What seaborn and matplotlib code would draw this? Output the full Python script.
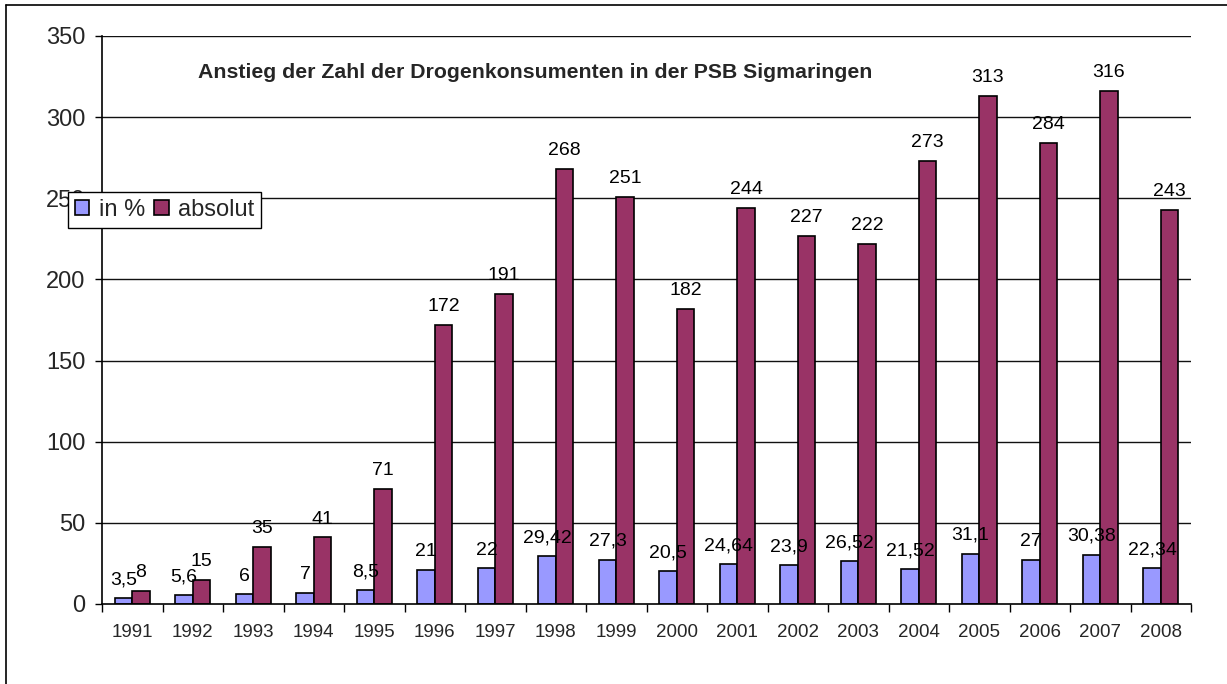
import matplotlib
matplotlib.use('Agg')
import matplotlib.pyplot as plt
import seaborn as sns
import pandas as pd
from matplotlib.lines import Line2D

years = [str(y) for y in range(1991, 2009)]
in_prozent = [3.5, 5.6, 6, 7, 8.5, 21, 22, 29.42, 27.3, 20.5, 24.64, 23.9, 26.52, 21.52, 31.1, 27, 30.38, 22.34]
absolut = [8, 15, 35, 41, 71, 172, 191, 268, 251, 182, 244, 227, 222, 273, 313, 284, 316, 243]
series_names = ['in %', 'absolut']
colors = ['#9999FF', '#993366']

df = pd.DataFrame({
    'Jahr': years * 2,
    'Wert': in_prozent + absolut,
    'Serie': [series_names[0]] * len(years) + [series_names[1]] * len(years),
})

sns.set_theme(style="white")
plt.rcParams['font.family'] = ['Liberation Sans', 'DejaVu Sans']

fig = plt.figure(figsize=(12.27, 6.84), dpi=100)
ax = fig.add_axes([102 / 1227, 80 / 684, 1089 / 1227, 568 / 684])

sns.barplot(data=df, x='Jahr', y='Wert', hue='Serie', palette=colors, saturation=1,
            width=0.58, edgecolor='black', linewidth=1.2, ax=ax, legend=True)

def fmt(v):
    if float(v).is_integer():
        return str(int(v))
    return str(v).replace('.', ',')

for cont, vals in zip(ax.containers, [in_prozent, absolut]):
    ax.bar_label(cont, labels=[fmt(v) for v in vals], padding=7, fontsize=14, color='black')

ax.set_ylim(0, 350)
ax.set_xlim(-0.5, len(years) - 0.5)
ax.set_yticks(range(0, 351, 50))
ax.set_xlabel('')
ax.set_ylabel('')
for y in range(50, 351, 50):
    ax.axhline(y, color='#111111', linewidth=1.0, zorder=0)

ax.tick_params(axis='y', labelsize=17, length=5, width=1, color='black', direction='out', pad=7, left=True)
ax.tick_params(axis='x', which='major', labelsize=13.5, length=0, pad=14.5)
ax.set_xticks([i - 0.5 for i in range(len(years) + 1)], minor=True)
ax.tick_params(axis='x', which='minor', length=6, width=1, color='black', direction='out', bottom=True)

sns.despine(ax=ax, top=True, right=True)
ax.spines['left'].set_color('black')
ax.spines['bottom'].set_color('black')
ax.spines['left'].set_linewidth(1.2)
ax.spines['bottom'].set_linewidth(1.2)

ax.text(0.398, 0.935, 'Anstieg der Zahl der Drogenkonsumenten in der PSB Sigmaringen',
        transform=ax.transAxes, ha='center', va='center', fontsize=15.3, fontweight='bold')

ax.legend(loc='upper left', bbox_to_anchor=(68 / 1227, 1 - 192 / 684), bbox_transform=fig.transFigure,
          ncol=2, fontsize=17, frameon=True, fancybox=False, edgecolor='black', framealpha=1,
          handlelength=0.6, handleheight=0.6, handletextpad=0.4, columnspacing=0.4,
          borderpad=0.3, borderaxespad=0)
ax.get_legend().get_frame().set_linewidth(1.0)

# outer chart border (left and top visible)
fig.add_artist(Line2D([6 / 1227, 6 / 1227], [0, 1 - 5 / 684], color='black', linewidth=1.2, transform=fig.transFigure))
fig.add_artist(Line2D([6 / 1227, 1], [1 - 5 / 684, 1 - 5 / 684], color='black', linewidth=1.2, transform=fig.transFigure))

plt.savefig('out.png', dpi=100)
plt.close(fig)
